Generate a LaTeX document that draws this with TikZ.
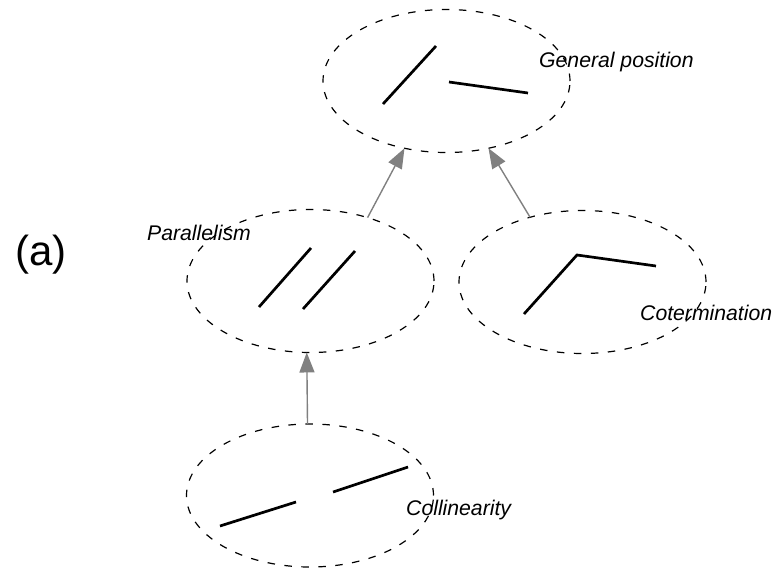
\documentclass[tikz,border=0pt]{standalone}
\usepackage{fontspec}
\setmainfont{Liberation Sans}
\usetikzlibrary{shapes.geometric,arrows.meta}
\definecolor{arrowgray}{RGB}{128,128,128}
\begin{document}
\begin{tikzpicture}[x=1pt,y=-1pt,
  region/.style={ellipse,draw,dash pattern=on 7.5pt off 9.5pt,line width=1.2pt,
    minimum width=247pt,minimum height=143pt,inner sep=0pt,outer sep=0pt},
  seg/.style={line width=2.7pt},
  lab/.style={font=\fontsize{21.2}{25}\selectfont\itshape,inner sep=0pt,anchor=base west},
  rel/.style={draw=arrowgray,line width=1.4pt,-{Triangle[length=20pt,width=15pt,fill=arrowgray]}}]
\useasboundingbox (0,0) rectangle (780,571);

% regions
\node[region] (gen) at (446.5,81) {};
\node[region] (par) at (310.5,281) {};
\node[region] (cot) at (582.5,282) {};
\node[region] (col) at (310,495.5) {};

% segments
\draw[seg] (383,104) -- (436,46);
\draw[seg] (449,82) -- (528,93);
\draw[seg] (259,307) -- (311,248);
\draw[seg] (303,309) -- (355,251);
\draw[seg] (524,314) -- (577,255) -- (656,266);
\draw[seg] (220,526) -- (296,502);
\draw[seg] (333,492) -- (408,467);

% labels
\node[lab] (lgen) at (539,67) {General position};
\node[lab] (lpar) at (147,240) {Parallelism};
\node[lab] (lcot) at (640,320) {Cotermination};
\node[lab] (lcol) at (406,515) {Collinearity};
\node[inner sep=0pt,anchor=base west,font=\fontsize{42}{48}\selectfont] (tag) at (15,265) {(a)};

% relations
\draw[rel] (par.48.6) -- (gen.238.5);
\draw[rel] (cot.129.9) -- (gen.302.8);
\draw[rel] (col.92.4) -- (par.267.2);
\end{tikzpicture}
\end{document}
